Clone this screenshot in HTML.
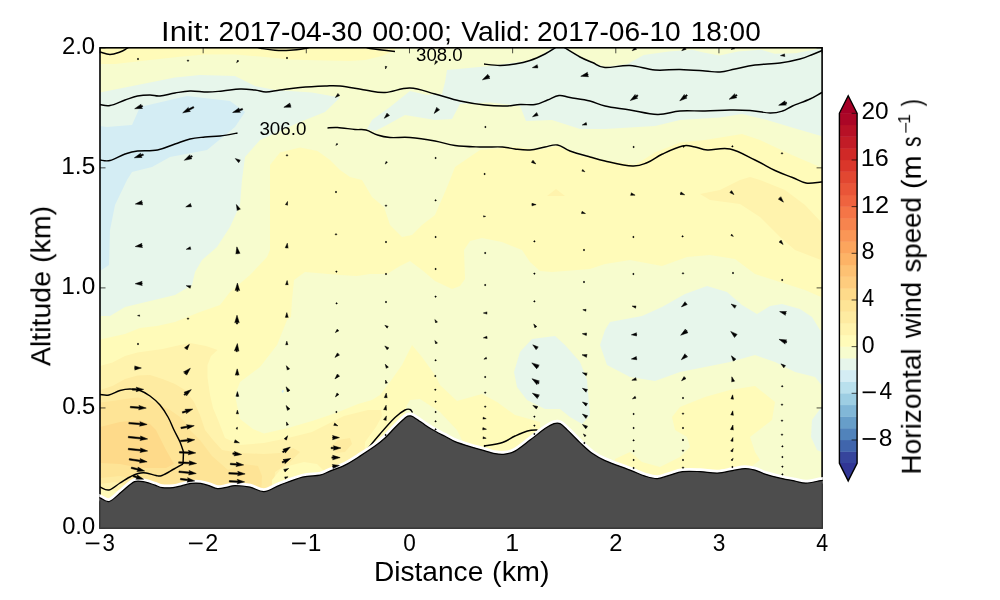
<!DOCTYPE html>
<html><head><meta charset="utf-8"><title>Cross section</title>
<style>html,body{margin:0;padding:0;background:#fff}svg{display:block}text{font-family:"Liberation Sans",sans-serif;fill:#000}</style></head><body>
<svg width="1000" height="600" viewBox="0 0 1000 600">
<rect width="1000" height="600" fill="#fff"/>
<defs><filter id="gs" x="-5%" y="-50%" width="110%" height="200%"><feOffset dx="0" dy="0"/></filter><clipPath id="ax"><rect x="100.0" y="47.8" width="722.1" height="480.2"/></clipPath></defs>
<g clip-path="url(#ax)">
<rect x="100.0" y="47.8" width="722.1" height="480.2" fill="#f7fcce"/>
<polygon points="95.0,40.0 95.0,64.0 115.0,64.0 150.0,60.0 182.0,56.5 205.0,54.5 235.0,54.5 260.0,56.5 290.0,59.5 325.0,60.5 350.0,61.0 365.0,60.0 382.0,56.0 395.0,50.0 398.0,40.0" fill="#fffbb9"/>
<polygon points="95.0,339.6 100.0,339.6 116.0,336.0 125.0,334.0 140.0,328.0 157.0,326.0 175.0,322.0 200.0,312.0 220.0,305.0 230.0,292.0 250.0,275.0 267.0,257.0 270.0,250.0 270.0,180.0 270.0,165.0 280.0,152.5 300.0,147.5 317.5,151.0 330.0,160.0 340.0,170.0 350.0,177.0 362.0,180.0 372.0,197.0 384.0,207.0 390.0,225.0 402.0,237.0 412.0,235.0 422.0,225.0 435.0,215.0 445.0,192.0 450.0,180.0 455.0,167.0 480.0,150.0 515.0,147.0 540.0,150.0 557.0,146.0 580.0,156.0 605.0,160.0 635.0,165.0 655.0,152.5 680.0,142.5 705.0,140.0 742.0,134.0 760.0,140.0 792.0,155.0 821.0,167.5 828.0,170.0 828.0,299.0 821.0,297.0 805.0,290.0 780.0,282.0 755.0,274.0 735.0,259.0 710.0,255.0 687.0,257.0 662.0,266.0 630.0,260.0 605.0,264.0 590.0,269.0 552.0,272.0 540.0,271.0 530.0,262.0 522.0,250.0 502.0,242.0 482.0,238.0 470.0,241.0 464.0,250.0 465.0,279.0 460.0,286.0 452.0,289.0 435.0,281.0 422.0,270.0 410.0,261.0 400.0,266.0 387.0,274.0 370.0,274.0 357.0,276.0 340.0,275.0 305.0,272.0 294.0,280.0 292.0,300.0 291.0,317.0 287.0,320.0 277.0,345.0 260.0,367.0 240.0,382.0 235.0,395.0 238.0,410.0 240.0,419.0 253.0,429.0 264.0,433.6 288.0,428.0 312.0,421.0 336.0,413.0 358.0,404.0 372.0,400.0 380.0,395.0 390.0,382.0 402.0,365.0 412.0,345.0 422.0,357.0 435.0,375.0 440.0,385.0 457.0,401.0 482.0,394.0 497.0,402.0 515.0,415.0 540.0,422.0 545.0,560.0 95.0,560.0" fill="#fffbb9"/>
<polygon points="612.0,560.0 615.0,459.0 630.0,452.0 642.0,462.0 660.0,467.0 680.0,457.0 690.0,447.0 687.0,437.0 675.0,430.0 672.0,417.0 680.0,407.0 705.0,397.0 730.0,390.0 755.0,386.0 775.0,402.0 772.0,420.0 750.0,437.0 755.0,452.0 760.0,460.0 752.0,466.0 752.0,560.0" fill="#fffbb9"/>
<polygon points="405.0,412.0 407.0,405.0 410.0,400.0 420.0,399.0 440.0,412.0 457.0,430.0 462.0,440.0 464.0,560.0 405.0,560.0" fill="#f7fcce"/>
<polygon points="700.0,194.0 720.0,190.0 740.0,180.0 750.0,177.0 760.0,180.0 785.0,190.0 805.0,205.0 821.0,222.0 828.0,225.0 828.0,262.0 821.0,260.0 795.0,250.0 780.0,237.0 760.0,217.0 740.0,204.0 710.0,200.0" fill="#fff3ad"/>
<polygon points="547.0,196.0 556.0,189.0 565.0,196.0" fill="#fff3ad"/>
<polygon points="95.0,366.0 100.0,366.0 112.5,362.5 125.0,356.0 137.5,352.5 162.5,349.0 180.0,345.0 190.0,343.0 206.0,346.0 217.5,350.0 211.0,356.0 207.5,365.0 207.5,377.5 210.0,395.0 213.0,408.0 218.0,420.0 225.0,438.0 240.0,445.0 264.0,443.0 288.0,438.0 312.0,432.0 328.0,424.0 344.0,416.0 368.0,410.0 381.0,410.0 382.0,416.0 376.0,427.0 365.0,442.0 360.0,560.0 95.0,560.0" fill="#fff3ad"/>
<polygon points="95.0,390.0 100.0,390.0 112.5,386.0 125.0,379.0 137.5,375.6 150.0,375.0 162.5,379.0 175.0,384.0 185.0,390.0 194.0,402.0 200.0,415.0 205.0,430.0 213.0,440.0 222.0,450.0 240.0,453.0 264.0,454.0 280.0,453.0 293.0,448.0 300.0,452.0 290.0,462.0 275.0,472.0 268.0,560.0 95.0,560.0" fill="#feeba1"/>
<polygon points="331.0,446.0 338.0,440.0 350.0,438.0 352.0,444.0 345.0,452.0 336.0,453.0" fill="#feeba1"/>
<polygon points="95.0,402.5 100.0,402.5 112.5,401.0 125.0,399.0 137.5,397.5 150.0,400.0 160.0,405.0 170.0,410.0 180.0,417.0 186.0,423.0 190.0,430.0 200.0,440.0 212.0,456.0 228.0,470.0 244.0,464.0 258.0,466.0 262.0,476.0 258.0,560.0 95.0,560.0" fill="#fee496"/>
<polygon points="95.0,427.0 100.0,427.0 120.0,422.0 140.0,420.0 150.0,424.0 156.0,430.0 160.0,438.0 166.0,450.0 174.0,464.0 166.0,468.0 140.0,468.0 120.0,464.0 100.0,463.0 95.0,463.0" fill="#feda8a"/>
<polygon points="95.0,478.0 100.0,478.0 120.0,476.0 134.0,479.0 134.0,560.0 95.0,560.0" fill="#feeba1"/>
<polygon points="95.0,484.0 100.0,484.0 115.0,482.0 127.0,486.0 127.0,560.0 95.0,560.0" fill="#fff3ad"/>
<polygon points="95.0,490.0 100.0,490.0 110.0,489.0 120.0,492.0 120.0,560.0 95.0,560.0" fill="#fffbb9"/>
<polygon points="272.0,560.0 272.0,480.0 280.0,470.0 288.0,466.0 304.0,462.0 317.0,464.0 323.0,470.0 326.0,478.0 326.0,560.0" fill="#fffbb9"/>
<polygon points="95.0,92.5 100.0,92.5 125.0,87.5 175.0,77.5 200.0,75.0 235.0,76.0 255.0,86.0 275.0,90.0 312.0,92.5 340.0,97.5 325.0,112.0 300.0,122.0 260.0,140.0 245.0,157.0 242.0,180.0 240.0,205.0 230.0,227.0 217.0,247.0 202.0,260.0 195.0,272.0 192.0,285.0 175.0,295.0 150.0,301.0 125.0,307.0 110.0,316.0 100.0,316.0 95.0,316.0" fill="#e7f6eb"/>
<polygon points="367.0,129.0 372.0,120.0 390.0,107.0 410.0,91.0 427.0,95.0 442.0,94.0 445.0,82.0 447.0,70.0 490.0,66.0 535.0,60.0 552.0,48.0 553.0,40.0 565.0,40.0 566.0,48.0 580.0,57.0 592.0,62.5 605.0,67.0 609.0,66.5 627.6,64.0 643.7,55.0 669.0,51.5 692.0,49.7 703.5,52.6 719.5,55.6 738.0,51.5 761.0,49.7 774.7,53.8 795.4,53.3 811.5,50.3 821.8,48.7 828.0,48.0 828.0,137.0 821.0,136.0 792.0,127.5 767.0,120.0 742.0,114.0 720.0,117.5 680.0,120.0 655.0,126.0 605.0,129.0 580.0,129.0 552.0,120.0 526.0,121.0 520.0,106.0 490.0,102.5 460.0,104.0 452.0,119.0 435.0,120.0 405.0,115.0 385.0,126.0 375.0,131.0" fill="#e7f6eb"/>
<polygon points="532.0,339.0 555.0,336.0 565.0,345.0 580.0,362.0 587.0,380.0 590.0,415.0 582.0,424.0 570.0,417.0 560.0,409.0 545.0,409.0 527.0,400.0 517.0,387.0 514.0,372.0 520.0,352.0" fill="#e7f6eb"/>
<polygon points="605.0,330.0 610.0,322.0 642.0,316.0 662.0,307.0 685.0,294.0 707.0,286.0 727.0,292.0 742.0,305.0 757.0,314.0 770.0,306.0 782.0,304.0 800.0,309.0 812.0,317.0 820.0,330.0 828.0,332.0 828.0,386.0 821.5,385.0 815.0,377.0 795.0,372.0 775.0,362.0 755.0,355.0 730.0,362.0 705.0,367.0 680.0,372.0 655.0,381.0 630.0,377.0 607.0,365.0 600.0,345.0" fill="#e7f6eb"/>
<polygon points="828.0,407.0 821.5,407.0 812.0,420.0 811.0,437.0 817.0,450.0 821.5,452.0 828.0,452.0" fill="#e7f6eb"/>
<polygon points="95.0,126.0 100.0,126.0 107.0,127.0 132.0,125.0 140.0,107.0 187.0,96.0 230.0,101.0 245.0,112.0 235.0,127.0 207.0,150.0 170.0,157.0 152.0,167.0 132.0,172.0 127.0,180.0 115.0,205.0 110.0,230.0 109.0,265.0 100.0,271.0 95.0,271.0" fill="#d4edf4"/>
<polygon points="281.6,391.6 283.0,389.6 284.0,391.0 282.6,393.0" fill="#d4edf4"/>
<path d="M98.0 51.5 C98.4 51.6 97.8 51.5 100.0 52.0 C102.2 52.5 106.3 54.5 110.0 54.5 C113.7 54.5 116.9 53.1 120.0 52.0 C123.1 50.9 125.3 49.3 127.0 48.4 C128.7 47.5 128.6 47.3 129.0 47.0" fill="none" stroke="#000" stroke-width="1.45" stroke-linejoin="round"/>
<path d="M98.0 104.3 C98.4 104.3 97.8 104.3 100.0 104.5 C102.2 104.7 105.4 106.3 110.0 105.5 C114.6 104.7 120.0 101.7 125.0 100.0 C130.0 98.3 132.9 96.9 137.5 96.0 C142.1 95.1 145.9 95.0 150.0 95.0 C154.1 95.0 155.4 96.4 160.0 96.0 C164.6 95.6 169.5 93.9 175.0 93.0 C180.5 92.1 184.0 91.2 190.0 91.0 C196.0 90.8 201.5 92.0 207.5 92.0 C213.5 92.0 216.5 91.5 222.5 91.0 C228.5 90.5 234.0 89.2 240.0 89.0 C246.0 88.8 250.2 89.5 255.0 90.0 C259.8 90.5 261.4 92.0 266.0 92.0 C270.6 92.0 273.8 90.8 280.0 90.0 C286.2 89.2 291.8 88.2 300.0 87.5 C308.2 86.8 317.7 86.3 325.0 86.0 C332.3 85.7 332.7 85.3 340.0 86.0 C347.3 86.7 356.8 88.8 365.0 90.0 C373.2 91.2 376.8 92.9 385.0 92.5 C393.2 92.1 400.8 87.7 410.0 88.0 C419.2 88.3 425.8 91.6 435.0 94.0 C444.2 96.4 450.8 99.0 460.0 101.0 C469.2 103.0 476.8 104.1 485.0 105.0 C493.2 105.9 498.6 106.1 505.0 106.0 C511.4 105.9 514.5 104.8 520.0 104.5 C525.5 104.2 530.0 105.3 535.0 104.5 C540.0 103.7 543.1 101.7 547.5 100.0 C551.9 98.3 554.9 96.0 559.0 95.5 C563.1 95.0 564.3 96.5 570.0 97.5 C575.7 98.5 583.6 99.4 590.0 101.0 C596.4 102.6 597.7 104.3 605.0 106.0 C612.3 107.7 620.4 108.4 630.0 110.0 C639.6 111.6 648.3 114.3 657.5 114.5 C666.7 114.7 671.3 111.6 680.0 111.0 C688.7 110.4 695.8 111.2 705.0 111.0 C714.2 110.8 721.8 110.1 730.0 110.0 C738.2 109.9 742.7 110.0 750.0 110.5 C757.3 111.0 764.0 112.9 770.0 113.0 C776.0 113.1 778.4 112.3 782.5 111.0 C786.6 109.7 787.5 108.2 792.5 106.0 C797.5 103.8 804.8 101.4 810.0 99.0 C815.2 96.6 818.4 94.3 821.0 93.0 C823.6 91.7 823.5 92.2 824.0 92.0" fill="none" stroke="#000" stroke-width="1.45" stroke-linejoin="round"/>
<path d="M98.0 160.0 C98.4 160.0 97.8 159.9 100.0 160.0 C102.2 160.1 105.4 161.6 110.0 160.5 C114.6 159.4 120.0 155.7 125.0 154.0 C130.0 152.3 131.5 151.7 137.5 151.0 C143.5 150.3 150.6 151.3 157.5 150.0 C164.4 148.7 169.0 146.0 175.0 144.0 C181.0 142.0 184.5 140.3 190.0 139.0 C195.5 137.7 199.5 137.6 205.0 137.0 C210.5 136.4 214.0 136.7 220.0 136.0 C226.0 135.3 234.3 133.6 237.5 133.0" fill="none" stroke="#000" stroke-width="1.45" stroke-linejoin="round"/>
<path d="M327.5 128.0 C329.3 127.9 332.5 127.2 337.5 127.5 C342.5 127.8 349.8 129.0 355.0 129.5 C360.2 130.0 361.9 129.0 366.0 130.0 C370.1 131.0 373.1 133.6 377.5 135.0 C381.9 136.4 384.0 137.0 390.0 137.5 C396.0 138.0 401.8 136.9 410.0 137.5 C418.2 138.1 426.8 139.5 435.0 141.0 C443.2 142.5 446.8 144.4 455.0 145.5 C463.2 146.6 471.3 146.7 480.0 147.0 C488.7 147.3 496.1 146.6 502.5 147.0 C508.9 147.4 510.0 148.4 515.0 149.0 C520.0 149.6 524.5 150.4 530.0 150.0 C535.5 149.6 540.0 147.9 545.0 147.0 C550.0 146.1 552.9 144.3 557.5 145.0 C562.1 145.7 564.0 148.8 570.0 151.0 C576.0 153.2 583.6 155.2 590.0 157.0 C596.4 158.8 597.2 159.3 605.0 161.0 C612.8 162.7 624.7 165.7 632.5 166.0 C640.3 166.3 642.0 164.7 647.5 162.5 C653.0 160.3 656.1 157.0 662.5 154.0 C668.9 151.0 676.5 147.3 682.5 146.0 C688.5 144.7 690.4 146.3 695.0 147.0 C699.6 147.7 701.1 149.6 707.5 150.0 C713.9 150.4 721.3 147.2 730.0 149.0 C738.7 150.8 746.8 156.1 755.0 160.0 C763.2 163.9 768.1 167.3 775.0 170.5 C781.9 173.7 786.8 175.2 792.5 177.5 C798.2 179.8 800.8 182.2 806.0 183.0 C811.2 183.8 817.7 182.2 821.0 182.0 C824.3 181.8 823.5 182.0 824.0 182.0" fill="none" stroke="#000" stroke-width="1.45" stroke-linejoin="round"/>
<path d="M257.0 47.0 C257.9 47.3 258.7 47.9 262.0 48.5 C265.3 49.1 269.9 50.0 275.0 50.3 C280.1 50.6 284.5 50.6 290.0 50.3 C295.5 50.0 301.3 49.1 305.0 48.5 C308.7 47.9 309.1 47.3 310.0 47.0" fill="none" stroke="#000" stroke-width="1.45" stroke-linejoin="round"/>
<path d="M366.0 47.0 C366.7 47.3 364.7 47.7 370.0 48.5 C375.3 49.3 390.4 51.0 395.0 51.5" fill="none" stroke="#000" stroke-width="1.45" stroke-linejoin="round"/>
<path d="M484.0 64.0 C486.9 64.3 494.3 65.5 500.0 65.5 C505.7 65.5 509.5 64.9 515.0 64.0 C520.5 63.1 524.5 62.3 530.0 60.5 C535.5 58.7 540.4 56.3 545.0 54.0 C549.6 51.7 552.8 49.4 555.0 48.0 C557.2 46.6 556.6 46.8 557.0 46.5" fill="none" stroke="#000" stroke-width="1.45" stroke-linejoin="round"/>
<path d="M563.0 46.5 C563.4 46.8 561.9 46.1 565.0 48.0 C568.1 49.9 575.0 54.3 580.0 57.0 C585.0 59.7 587.9 60.6 592.5 62.5 C597.1 64.4 598.1 67.0 605.0 67.5 C611.9 68.0 620.8 65.0 630.0 65.5 C639.2 66.0 645.8 69.3 655.0 70.0 C664.2 70.7 670.8 69.3 680.0 69.5 C689.2 69.7 697.7 70.5 705.0 71.0 C712.3 71.5 714.5 72.4 720.0 72.0 C725.5 71.6 728.6 70.3 735.0 69.0 C741.4 67.7 746.8 66.1 755.0 65.0 C763.2 63.9 771.8 64.1 780.0 63.0 C788.2 61.9 794.0 60.6 800.0 59.0 C806.0 57.4 808.6 56.0 812.5 54.5 C816.4 53.0 818.9 51.8 821.0 51.0 C823.1 50.2 823.5 50.2 824.0 50.0" fill="none" stroke="#000" stroke-width="1.45" stroke-linejoin="round"/>
<path d="M98.0 394.3 C98.4 394.3 98.0 394.4 100.0 394.5 C102.0 394.6 105.3 395.7 109.0 395.0 C112.7 394.3 116.2 391.6 120.0 390.5 C123.8 389.4 126.3 389.0 130.0 389.0 C133.7 389.0 136.3 389.2 140.0 390.5 C143.7 391.8 146.3 393.3 150.0 396.0 C153.7 398.7 156.7 401.1 160.0 405.0 C163.3 408.9 165.4 412.4 168.0 417.0 C170.6 421.6 171.8 425.4 174.0 430.0 C176.2 434.6 178.3 438.0 180.0 442.0 C181.7 446.0 182.9 450.2 183.5 452.0" fill="none" stroke="#000" stroke-width="1.45" stroke-linejoin="round"/>
<path d="M183.5 452.0 L183.0 464.0" fill="none" stroke="#000" stroke-width="1.45" stroke-linejoin="round"/>
<path d="M183.0 464.0 C181.3 464.9 177.8 466.9 174.0 469.0 C170.2 471.1 165.3 474.3 162.0 475.5 C158.7 476.7 158.9 476.0 156.0 475.5 C153.1 475.0 149.3 473.4 146.0 473.0 C142.7 472.6 140.9 472.8 138.0 473.5 C135.1 474.2 133.3 475.3 130.0 477.0 C126.7 478.7 123.8 480.6 120.0 483.0 C116.2 485.4 112.7 489.3 109.0 490.0 C105.3 490.7 102.0 487.6 100.0 487.0 C98.0 486.4 98.4 486.6 98.0 486.5" fill="none" stroke="#000" stroke-width="1.45" stroke-linejoin="round"/>
<path d="M367.5 449.0 C369.8 446.2 375.0 439.8 380.0 434.0 C385.0 428.2 390.4 421.9 395.0 417.5 C399.6 413.1 402.2 411.5 405.0 410.0 C407.8 408.5 408.6 409.0 410.0 409.5 C411.4 410.0 412.0 411.9 412.5 412.5" fill="none" stroke="#000" stroke-width="1.45" stroke-linejoin="round"/>
<path d="M484.0 446.0 C487.4 445.4 496.8 444.3 502.5 442.5 C508.2 440.7 510.4 438.1 515.0 436.0 C519.6 433.9 523.4 432.1 527.5 431.0 C531.6 429.9 535.7 430.2 537.5 430.0" fill="none" stroke="#000" stroke-width="1.45" stroke-linejoin="round"/>
</g>
<g clip-path="url(#ax)">
<text filter="url(#gs)" transform="translate(259.40 135.20) scale(1.0436 1)" font-size="18.0">306.0</text>
<text filter="url(#gs)" transform="translate(416.10 60.50) scale(1.0344 1)" font-size="18.0">308.0</text>
</g>
<rect x="100.0" y="47.8" width="722.1" height="480.2" fill="none" stroke="#000" stroke-width="1.6"/>
<path d="M100.00 528.0 v-5.5 M100.00 47.8 v5.5 M203.16 528.0 v-5.5 M203.16 47.8 v5.5 M306.31 528.0 v-5.5 M306.31 47.8 v5.5 M409.47 528.0 v-5.5 M409.47 47.8 v5.5 M512.63 528.0 v-5.5 M512.63 47.8 v5.5 M615.79 528.0 v-5.5 M615.79 47.8 v5.5 M718.94 528.0 v-5.5 M718.94 47.8 v5.5 M822.10 528.0 v-5.5 M822.10 47.8 v5.5 M100.0 528.00 h5.5 M822.1 528.00 h-5.5 M100.0 407.95 h5.5 M822.1 407.95 h-5.5 M100.0 287.90 h5.5 M822.1 287.90 h-5.5 M100.0 167.85 h5.5 M822.1 167.85 h-5.5 M100.0 47.80 h5.5 M822.1 47.80 h-5.5" stroke="#000" stroke-width="0.7" fill="none"/>
<defs><clipPath id="ax2"><rect x="99.30" y="47.80" width="723.50" height="480.90"/></clipPath></defs>
<g clip-path="url(#ax2)">
<path d="M95.0 496.8 C95.8 497.0 97.6 497.0 100.0 497.8 C102.4 498.6 105.7 502.6 109.4 501.5 C113.1 500.4 117.8 494.8 122.0 491.5 C126.2 488.2 130.7 483.2 134.6 481.6 C138.5 480.1 142.0 481.6 145.4 482.2 C148.8 482.8 152.2 484.3 155.0 485.2 C157.8 486.1 159.2 487.2 162.2 487.6 C165.2 488.0 169.8 487.9 173.0 487.6 C176.2 487.3 178.4 486.5 181.4 485.8 C184.4 485.1 187.8 483.8 191.0 483.4 C194.2 483.0 197.6 483.0 200.6 483.4 C203.6 483.8 206.2 484.7 209.0 485.6 C211.8 486.5 214.4 488.4 217.5 488.6 C220.6 488.9 224.6 487.6 227.5 487.1 C230.4 486.6 231.2 485.6 235.0 485.6 C238.8 485.6 245.2 486.1 250.0 487.1 C254.8 488.1 259.0 491.9 264.0 491.6 C269.0 491.3 273.6 487.5 280.0 485.1 C286.4 482.7 295.8 478.8 302.5 477.1 C309.2 475.4 315.4 476.1 320.0 475.1 C324.6 474.1 325.8 472.8 330.0 471.1 C334.2 469.4 340.0 467.6 345.0 465.1 C350.0 462.6 355.0 459.3 360.0 456.1 C365.0 452.9 370.8 449.1 375.0 446.1 C379.2 443.1 382.2 440.5 385.0 438.0 C387.8 435.5 389.5 433.3 391.7 431.0 C393.9 428.7 396.1 426.5 398.3 424.3 C400.5 422.1 403.4 419.2 405.0 417.9 C406.6 416.6 406.8 416.6 407.7 416.2 C408.6 415.9 409.4 415.7 410.3 415.8 C411.2 415.9 411.7 416.1 413.0 416.8 C414.3 417.6 416.3 418.9 418.3 420.3 C420.3 421.7 422.8 423.5 425.0 425.0 C427.2 426.5 429.5 428.0 431.7 429.3 C433.9 430.6 436.1 431.8 438.3 433.0 C440.5 434.2 442.2 434.9 445.0 436.3 C447.8 437.7 450.8 439.9 455.0 441.6 C459.2 443.3 465.4 445.2 470.0 446.6 C474.6 448.0 478.3 448.9 482.5 450.1 C486.7 451.3 491.2 452.9 495.0 453.6 C498.8 454.3 501.7 454.5 505.0 454.1 C508.3 453.7 510.8 453.4 515.0 451.1 C519.2 448.8 525.0 443.9 530.0 440.1 C535.0 436.4 541.0 431.4 545.0 428.6 C549.0 425.9 551.5 424.4 554.0 423.6 C556.5 422.8 557.8 422.5 560.0 423.6 C562.2 424.7 564.2 426.9 567.5 430.1 C570.8 433.3 575.8 438.7 580.0 442.6 C584.2 446.5 588.3 450.6 592.5 453.6 C596.7 456.6 598.8 457.9 605.0 460.6 C611.2 463.4 623.3 467.5 630.0 470.1 C636.7 472.7 640.4 474.7 645.0 476.1 C649.6 477.5 653.3 478.8 657.5 478.6 C661.7 478.4 665.8 476.3 670.0 475.1 C674.2 473.9 677.5 472.2 682.5 471.6 C687.5 471.0 694.2 471.4 700.0 471.6 C705.8 471.9 712.1 473.3 717.5 473.1 C722.9 472.9 727.9 471.4 732.5 470.6 C737.1 469.9 741.2 468.7 745.0 468.6 C748.8 468.5 751.7 469.2 755.0 470.1 C758.3 471.0 760.8 472.8 765.0 474.1 C769.2 475.4 775.0 476.9 780.0 478.1 C785.0 479.3 790.7 480.3 795.0 481.1 C799.3 481.9 801.7 483.2 806.0 483.1 C810.3 483.0 817.5 481.1 821.0 480.6 C824.5 480.1 826.1 480.2 827.1 480.1" fill="none" stroke="#fff" stroke-width="6.6" stroke-linejoin="round"/>
<path d="M95.0 496.8 C95.8 497.0 97.6 497.0 100.0 497.8 C102.4 498.6 105.7 502.6 109.4 501.5 C113.1 500.4 117.8 494.8 122.0 491.5 C126.2 488.2 130.7 483.2 134.6 481.6 C138.5 480.1 142.0 481.6 145.4 482.2 C148.8 482.8 152.2 484.3 155.0 485.2 C157.8 486.1 159.2 487.2 162.2 487.6 C165.2 488.0 169.8 487.9 173.0 487.6 C176.2 487.3 178.4 486.5 181.4 485.8 C184.4 485.1 187.8 483.8 191.0 483.4 C194.2 483.0 197.6 483.0 200.6 483.4 C203.6 483.8 206.2 484.7 209.0 485.6 C211.8 486.5 214.4 488.4 217.5 488.6 C220.6 488.9 224.6 487.6 227.5 487.1 C230.4 486.6 231.2 485.6 235.0 485.6 C238.8 485.6 245.2 486.1 250.0 487.1 C254.8 488.1 259.0 491.9 264.0 491.6 C269.0 491.3 273.6 487.5 280.0 485.1 C286.4 482.7 295.8 478.8 302.5 477.1 C309.2 475.4 315.4 476.1 320.0 475.1 C324.6 474.1 325.8 472.8 330.0 471.1 C334.2 469.4 340.0 467.6 345.0 465.1 C350.0 462.6 355.0 459.3 360.0 456.1 C365.0 452.9 370.8 449.1 375.0 446.1 C379.2 443.1 382.2 440.5 385.0 438.0 C387.8 435.5 389.5 433.3 391.7 431.0 C393.9 428.7 396.1 426.5 398.3 424.3 C400.5 422.1 403.4 419.2 405.0 417.9 C406.6 416.6 406.8 416.6 407.7 416.2 C408.6 415.9 409.4 415.7 410.3 415.8 C411.2 415.9 411.7 416.1 413.0 416.8 C414.3 417.6 416.3 418.9 418.3 420.3 C420.3 421.7 422.8 423.5 425.0 425.0 C427.2 426.5 429.5 428.0 431.7 429.3 C433.9 430.6 436.1 431.8 438.3 433.0 C440.5 434.2 442.2 434.9 445.0 436.3 C447.8 437.7 450.8 439.9 455.0 441.6 C459.2 443.3 465.4 445.2 470.0 446.6 C474.6 448.0 478.3 448.9 482.5 450.1 C486.7 451.3 491.2 452.9 495.0 453.6 C498.8 454.3 501.7 454.5 505.0 454.1 C508.3 453.7 510.8 453.4 515.0 451.1 C519.2 448.8 525.0 443.9 530.0 440.1 C535.0 436.4 541.0 431.4 545.0 428.6 C549.0 425.9 551.5 424.4 554.0 423.6 C556.5 422.8 557.8 422.5 560.0 423.6 C562.2 424.7 564.2 426.9 567.5 430.1 C570.8 433.3 575.8 438.7 580.0 442.6 C584.2 446.5 588.3 450.6 592.5 453.6 C596.7 456.6 598.8 457.9 605.0 460.6 C611.2 463.4 623.3 467.5 630.0 470.1 C636.7 472.7 640.4 474.7 645.0 476.1 C649.6 477.5 653.3 478.8 657.5 478.6 C661.7 478.4 665.8 476.3 670.0 475.1 C674.2 473.9 677.5 472.2 682.5 471.6 C687.5 471.0 694.2 471.4 700.0 471.6 C705.8 471.9 712.1 473.3 717.5 473.1 C722.9 472.9 727.9 471.4 732.5 470.6 C737.1 469.9 741.2 468.7 745.0 468.6 C748.8 468.5 751.7 469.2 755.0 470.1 C758.3 471.0 760.8 472.8 765.0 474.1 C769.2 475.4 775.0 476.9 780.0 478.1 C785.0 479.3 790.7 480.3 795.0 481.1 C799.3 481.9 801.7 483.2 806.0 483.1 C810.3 483.0 817.5 481.1 821.0 480.6 C824.5 480.1 826.1 480.2 827.1 480.1 L827.1 533.0 L95.0 533.0 Z" fill="#4d4d4d"/>
<path d="M95.0 496.8 C95.8 497.0 97.6 497.0 100.0 497.8 C102.4 498.6 105.7 502.6 109.4 501.5 C113.1 500.4 117.8 494.8 122.0 491.5 C126.2 488.2 130.7 483.2 134.6 481.6 C138.5 480.1 142.0 481.6 145.4 482.2 C148.8 482.8 152.2 484.3 155.0 485.2 C157.8 486.1 159.2 487.2 162.2 487.6 C165.2 488.0 169.8 487.9 173.0 487.6 C176.2 487.3 178.4 486.5 181.4 485.8 C184.4 485.1 187.8 483.8 191.0 483.4 C194.2 483.0 197.6 483.0 200.6 483.4 C203.6 483.8 206.2 484.7 209.0 485.6 C211.8 486.5 214.4 488.4 217.5 488.6 C220.6 488.9 224.6 487.6 227.5 487.1 C230.4 486.6 231.2 485.6 235.0 485.6 C238.8 485.6 245.2 486.1 250.0 487.1 C254.8 488.1 259.0 491.9 264.0 491.6 C269.0 491.3 273.6 487.5 280.0 485.1 C286.4 482.7 295.8 478.8 302.5 477.1 C309.2 475.4 315.4 476.1 320.0 475.1 C324.6 474.1 325.8 472.8 330.0 471.1 C334.2 469.4 340.0 467.6 345.0 465.1 C350.0 462.6 355.0 459.3 360.0 456.1 C365.0 452.9 370.8 449.1 375.0 446.1 C379.2 443.1 382.2 440.5 385.0 438.0 C387.8 435.5 389.5 433.3 391.7 431.0 C393.9 428.7 396.1 426.5 398.3 424.3 C400.5 422.1 403.4 419.2 405.0 417.9 C406.6 416.6 406.8 416.6 407.7 416.2 C408.6 415.9 409.4 415.7 410.3 415.8 C411.2 415.9 411.7 416.1 413.0 416.8 C414.3 417.6 416.3 418.9 418.3 420.3 C420.3 421.7 422.8 423.5 425.0 425.0 C427.2 426.5 429.5 428.0 431.7 429.3 C433.9 430.6 436.1 431.8 438.3 433.0 C440.5 434.2 442.2 434.9 445.0 436.3 C447.8 437.7 450.8 439.9 455.0 441.6 C459.2 443.3 465.4 445.2 470.0 446.6 C474.6 448.0 478.3 448.9 482.5 450.1 C486.7 451.3 491.2 452.9 495.0 453.6 C498.8 454.3 501.7 454.5 505.0 454.1 C508.3 453.7 510.8 453.4 515.0 451.1 C519.2 448.8 525.0 443.9 530.0 440.1 C535.0 436.4 541.0 431.4 545.0 428.6 C549.0 425.9 551.5 424.4 554.0 423.6 C556.5 422.8 557.8 422.5 560.0 423.6 C562.2 424.7 564.2 426.9 567.5 430.1 C570.8 433.3 575.8 438.7 580.0 442.6 C584.2 446.5 588.3 450.6 592.5 453.6 C596.7 456.6 598.8 457.9 605.0 460.6 C611.2 463.4 623.3 467.5 630.0 470.1 C636.7 472.7 640.4 474.7 645.0 476.1 C649.6 477.5 653.3 478.8 657.5 478.6 C661.7 478.4 665.8 476.3 670.0 475.1 C674.2 473.9 677.5 472.2 682.5 471.6 C687.5 471.0 694.2 471.4 700.0 471.6 C705.8 471.9 712.1 473.3 717.5 473.1 C722.9 472.9 727.9 471.4 732.5 470.6 C737.1 469.9 741.2 468.7 745.0 468.6 C748.8 468.5 751.7 469.2 755.0 470.1 C758.3 471.0 760.8 472.8 765.0 474.1 C769.2 475.4 775.0 476.9 780.0 478.1 C785.0 479.3 790.7 480.3 795.0 481.1 C799.3 481.9 801.7 483.2 806.0 483.1 C810.3 483.0 817.5 481.1 821.0 480.6 C824.5 480.1 826.1 480.2 827.1 480.1" fill="none" stroke="#000" stroke-width="1.25" stroke-linejoin="round"/>
</g>
<path clip-path="url(#ax)" d="M138.75 59.00 L138.38 59.65 L137.62 59.65 L137.25 59.00 L137.62 58.35 L138.38 58.35Z M142.28 105.40 L140.86 105.87 L141.10 104.21 L134.68 108.69 L142.51 108.48 L141.33 107.29 L142.75 106.82Z M143.02 153.91 L140.44 154.82 L140.65 153.16 L134.33 157.78 L142.15 157.40 L140.94 156.24 L143.52 155.32Z M142.17 202.02 L141.47 202.15 L141.90 200.61 L135.29 204.08 L142.72 204.82 L141.74 203.55 L142.44 203.42Z M142.09 244.75 L141.39 244.86 L141.88 243.35 L135.20 246.55 L142.53 247.56 L141.61 246.26 L142.31 246.15Z M142.17 282.76 L141.47 282.79 L142.12 281.36 L135.20 283.74 L142.28 285.56 L141.53 284.19 L142.23 284.16Z M139.66 315.39 L139.45 315.39 L139.66 314.96 L137.54 315.60 L139.66 316.24 L139.45 315.81 L139.66 315.81Z M138.75 344.00 L138.38 344.65 L137.62 344.65 L137.25 344.00 L137.62 343.35 L138.38 343.35Z M134.60 368.68 L135.28 368.68 L134.60 370.04 L141.40 368.00 L134.60 365.96 L135.28 367.32 L134.60 367.32Z M132.35 390.15 L136.90 390.15 L136.15 391.65 L143.65 389.40 L136.15 387.15 L136.90 388.65 L132.35 388.65Z M130.30 407.87 L139.47 408.42 L138.63 409.87 L146.25 408.08 L138.90 405.38 L139.56 406.92 L130.39 406.37Z M128.79 423.87 L140.36 424.73 L139.51 426.17 L147.15 424.47 L139.84 421.68 L140.47 423.23 L128.90 422.38Z M128.27 437.78 L140.86 439.04 L139.97 440.46 L147.65 438.97 L140.41 435.98 L141.01 437.55 L128.42 436.29Z M128.27 449.78 L140.86 451.04 L139.97 452.46 L147.65 450.97 L140.41 447.98 L141.01 449.55 L128.42 448.29Z M129.14 460.09 L140.36 461.66 L139.41 463.04 L147.15 461.85 L140.04 458.58 L140.57 460.17 L129.35 458.61Z M131.16 468.51 L137.92 470.15 L136.84 471.43 L144.66 471.02 L137.90 467.06 L138.28 468.70 L131.52 467.05Z M133.01 476.72 L136.90 477.92 L135.74 479.13 L143.57 479.20 L137.06 474.83 L137.34 476.49 L133.46 475.29Z M188.75 60.60 L188.38 61.25 L187.62 61.25 L187.25 60.60 L187.62 59.95 L188.38 59.95Z M193.34 106.49 L188.36 109.07 L188.34 107.40 L182.71 112.84 L190.41 111.39 L189.05 110.40 L194.03 107.83Z M191.73 155.41 L189.87 156.43 L189.80 154.76 L184.31 160.33 L191.97 158.70 L190.59 157.75 L192.45 156.73Z M190.89 204.58 L190.36 204.75 L190.53 203.51 L185.73 206.89 L191.60 206.71 L190.71 205.82 L191.25 205.64Z M190.43 247.62 L190.00 247.75 L190.18 246.75 L186.24 249.35 L190.95 249.35 L190.26 248.61 L190.69 248.48Z M190.69 286.52 L190.26 286.39 L190.95 285.65 L186.24 285.65 L190.18 288.25 L190.00 287.25 L190.43 287.38Z M188.75 318.60 L188.38 319.25 L187.62 319.25 L187.25 318.60 L187.62 317.95 L188.38 317.95Z M186.26 349.18 L186.62 348.74 L187.15 349.90 L189.38 344.37 L184.48 347.76 L185.73 348.03 L185.37 348.47Z M185.38 374.28 L186.11 373.55 L186.64 375.14 L190.35 368.25 L183.46 371.96 L185.05 372.49 L184.32 373.22Z M184.73 395.40 L186.33 394.22 L186.62 395.87 L191.32 389.61 L183.95 392.25 L185.44 393.01 L183.84 394.19Z M182.67 413.20 L186.59 411.92 L186.34 413.58 L192.77 409.11 L184.94 409.30 L186.12 410.50 L182.20 411.78Z M181.07 428.68 L187.73 427.54 L187.24 429.14 L194.26 425.66 L186.48 424.71 L187.48 426.06 L180.82 427.20Z M180.52 441.81 L188.10 441.11 L187.49 442.67 L194.75 439.73 L187.07 438.19 L187.96 439.61 L180.38 440.32Z M179.42 453.06 L188.98 453.40 L188.18 454.87 L195.75 452.89 L188.33 450.37 L189.03 451.90 L179.48 451.56Z M178.61 463.27 L189.77 463.87 L188.94 465.33 L196.55 463.48 L189.18 460.83 L189.85 462.37 L178.69 461.77Z M178.87 472.48 L189.46 473.54 L188.57 474.96 L196.25 473.47 L189.01 470.48 L189.61 472.05 L179.02 470.99Z M180.35 479.79 L187.96 480.81 L187.02 482.19 L194.75 480.95 L187.62 477.73 L188.16 479.32 L180.55 478.30Z M237.98 60.38 L237.82 60.59 L237.56 60.06 L236.61 62.66 L238.83 61.02 L238.25 60.91 L238.41 60.70Z M242.33 108.40 L238.78 109.61 L239.01 107.95 L232.63 112.49 L240.46 112.21 L239.26 111.03 L242.81 109.82Z M239.80 161.03 L239.38 160.74 L240.38 160.18 L235.29 158.55 L238.64 162.72 L238.80 161.58 L239.22 161.87Z M239.34 209.64 L239.10 209.10 L240.41 209.16 L236.39 204.52 L237.20 210.60 L238.03 209.59 L238.27 210.12Z M238.64 253.65 L238.53 252.95 L240.02 253.43 L236.85 246.85 L235.87 254.08 L237.15 253.17 L237.25 253.86Z M238.15 291.35 L238.15 289.80 L239.65 290.55 L237.40 283.05 L235.15 290.55 L236.65 289.80 L236.65 291.35Z M237.75 324.00 L237.75 321.95 L239.25 322.70 L237.00 315.20 L234.75 322.70 L236.25 321.95 L236.25 324.00Z M237.38 351.72 L237.50 350.34 L238.93 351.22 L237.37 343.55 L234.45 350.81 L236.01 350.20 L235.88 351.58Z M237.83 375.15 L237.83 374.52 L239.09 375.15 L237.20 368.85 L235.31 375.15 L236.57 374.52 L236.57 375.15Z M237.88 396.40 L237.88 395.92 L238.84 396.40 L237.40 391.60 L235.96 396.40 L236.92 395.92 L236.92 396.40Z M237.77 413.86 L237.77 413.48 L238.51 413.86 L237.40 410.14 L236.29 413.86 L237.03 413.48 L237.03 413.86Z M236.95 429.11 L237.00 428.90 L237.37 429.22 L237.26 426.94 L236.10 428.90 L236.58 428.80 L236.52 429.01Z M234.46 441.68 L234.93 441.84 L234.14 442.64 L239.38 442.80 L235.09 439.77 L235.25 440.89 L234.77 440.73Z M232.72 454.28 L234.81 454.50 L233.91 455.92 L241.60 454.46 L234.38 451.44 L234.97 453.01 L232.88 452.79Z M230.30 464.67 L236.86 465.14 L236.01 466.58 L243.65 464.88 L236.33 462.10 L236.97 463.65 L230.40 463.18Z M228.82 474.06 L238.38 474.40 L237.58 475.87 L245.15 473.89 L237.73 471.37 L238.43 472.90 L228.88 472.56Z M229.32 482.06 L237.88 482.38 L237.07 483.85 L244.65 481.89 L237.24 479.36 L237.93 480.88 L229.38 480.56Z M287.75 58.00 L287.38 58.65 L286.62 58.65 L286.25 58.00 L286.62 57.35 L287.38 57.35Z M290.35 104.43 L289.68 104.65 L289.91 103.09 L283.83 107.29 L291.22 107.13 L290.11 106.00 L290.79 105.78Z M287.75 155.40 L287.38 156.05 L286.62 156.05 L286.25 155.40 L286.62 154.75 L287.38 154.75Z M286.82 205.05 L286.93 204.71 L287.52 205.27 L287.53 201.45 L285.42 204.63 L286.23 204.49 L286.12 204.84Z M287.17 248.10 L287.23 247.61 L288.14 248.23 L287.32 243.16 L285.22 247.85 L286.26 247.49 L286.19 247.97Z M287.30 284.88 L287.33 284.45 L288.16 284.93 L287.13 280.55 L285.58 284.77 L286.47 284.39 L286.44 284.82Z M287.28 317.38 L287.28 316.91 L288.23 317.38 L286.80 312.62 L285.37 317.38 L286.32 316.91 L286.32 317.38Z M287.17 344.86 L287.17 344.48 L287.91 344.86 L286.80 341.14 L285.69 344.86 L286.43 344.48 L286.43 344.86Z M288.82 369.33 L288.62 368.95 L289.60 368.92 L286.36 365.66 L287.27 370.16 L287.84 369.36 L288.05 369.75Z M289.16 390.94 L288.90 390.50 L290.04 390.41 L286.08 386.80 L287.40 391.99 L288.02 391.02 L288.28 391.46Z M289.14 409.44 L288.87 409.02 L289.98 408.91 L286.09 405.50 L287.45 410.49 L288.03 409.55 L288.29 409.97Z M287.85 424.98 L287.74 424.67 L288.48 424.77 L286.47 421.91 L286.58 425.41 L287.11 424.88 L287.21 425.20Z M285.66 439.70 L285.90 439.33 L286.41 440.18 L287.71 435.74 L284.18 438.73 L285.16 438.84 L284.92 439.21Z M283.10 452.73 L285.08 451.43 L285.28 453.10 L290.31 447.09 L282.81 449.34 L284.26 450.18 L282.28 451.48Z M282.64 463.08 L284.92 461.99 L284.89 463.66 L290.68 458.40 L282.95 459.60 L284.27 460.63 L281.99 461.72Z M284.54 471.18 L284.98 470.95 L284.99 472.05 L288.69 468.46 L283.63 469.42 L284.52 470.07 L284.08 470.30Z M285.02 478.25 L285.33 478.14 L285.23 478.88 L288.09 476.87 L284.59 476.98 L285.12 477.51 L284.80 477.61Z M338.53 94.13 L338.19 94.44 L337.92 93.44 L335.36 97.52 L339.75 95.52 L338.79 95.13 L339.14 94.83Z M337.24 143.65 L337.08 143.81 L336.92 143.33 L335.81 145.39 L337.87 144.28 L337.40 144.12 L337.55 143.96Z M336.75 192.00 L336.38 192.65 L335.62 192.65 L335.25 192.00 L335.62 191.35 L336.38 191.35Z M336.75 234.40 L336.38 235.05 L335.62 235.05 L335.25 234.40 L335.62 233.75 L336.38 233.75Z M337.15 271.60 L336.77 272.25 L336.02 272.25 L335.65 271.60 L336.02 270.95 L336.77 270.95Z M337.35 303.40 L336.98 304.05 L336.23 304.05 L335.85 303.40 L336.23 302.75 L336.98 302.75Z M337.76 329.71 L337.50 329.98 L337.23 329.18 L335.38 332.62 L338.82 330.77 L338.02 330.50 L338.29 330.24Z M338.10 353.60 L337.75 353.95 L337.40 352.90 L334.95 357.45 L339.50 355.00 L338.45 354.65 L338.80 354.30Z M338.07 374.74 L337.72 375.12 L337.30 374.04 L334.95 378.91 L339.59 376.14 L338.48 375.82 L338.83 375.44Z M337.65 393.46 L337.40 393.77 L337.02 392.95 L335.43 396.89 L338.93 394.47 L338.04 394.28 L338.29 393.96Z M337.15 412.00 L336.77 412.65 L336.02 412.65 L335.65 412.00 L336.02 411.35 L336.77 411.35Z M333.99 424.58 L334.36 424.74 L333.67 425.32 L337.86 425.80 L334.62 423.09 L334.68 423.99 L334.30 423.83Z M332.55 438.29 L333.24 438.29 L332.55 439.67 L339.45 437.60 L332.55 435.53 L333.24 436.91 L332.55 436.91Z M331.10 448.75 L334.15 448.75 L333.40 450.25 L340.90 448.00 L333.40 445.75 L334.15 447.25 L331.10 447.25Z M331.85 458.35 L333.40 458.35 L332.65 459.85 L340.15 457.60 L332.65 455.35 L333.40 456.85 L331.85 456.85Z M332.70 467.23 L333.39 467.12 L332.92 468.59 L339.40 465.46 L332.27 464.50 L333.17 465.75 L332.49 465.86Z M385.80 66.32 L385.75 66.59 L385.27 66.22 L385.54 69.03 L386.86 66.53 L386.28 66.69 L386.33 66.43Z M387.90 113.90 L387.50 114.30 L387.10 113.10 L384.30 118.30 L389.50 115.50 L388.30 115.10 L388.70 114.70Z M386.58 161.78 L386.42 161.99 L386.16 161.46 L385.20 164.06 L387.43 162.42 L386.85 162.31 L387.01 162.10Z M386.75 205.60 L386.38 206.25 L385.62 206.25 L385.25 205.60 L385.62 204.95 L386.38 204.95Z M386.75 242.00 L386.38 242.65 L385.62 242.65 L385.25 242.00 L385.62 241.35 L386.38 241.35Z M386.75 274.00 L386.38 274.65 L385.62 274.65 L385.25 274.00 L385.62 273.35 L386.38 273.35Z M386.75 302.00 L386.38 302.65 L385.62 302.65 L385.25 302.00 L385.62 301.35 L386.38 301.35Z M387.93 327.02 L387.65 326.82 L388.34 326.45 L384.87 325.29 L387.13 328.17 L387.24 327.39 L387.53 327.59Z M388.28 348.51 L387.96 348.23 L388.85 347.88 L384.81 345.97 L387.13 349.78 L387.39 348.86 L387.70 349.15Z M387.71 367.54 L387.50 367.19 L388.41 367.11 L385.24 364.25 L386.31 368.38 L386.80 367.61 L387.01 367.96Z M386.74 383.11 L386.66 382.79 L387.38 382.94 L385.58 380.01 L385.47 383.44 L386.02 382.96 L386.11 383.27Z M386.21 397.84 L386.26 397.36 L387.17 397.94 L386.26 393.01 L384.30 397.63 L385.31 397.25 L385.26 397.73Z M385.55 410.09 L385.65 409.61 L386.50 410.30 L386.13 405.22 L383.64 409.67 L384.70 409.40 L384.59 409.88Z M385.23 420.28 L385.39 419.86 L386.08 420.60 L386.40 415.88 L383.53 419.64 L384.54 419.54 L384.38 419.96Z M386.35 435.00 L385.98 435.65 L385.23 435.65 L384.85 435.00 L385.23 434.35 L385.98 434.35Z M436.42 60.89 L436.21 61.23 L435.74 60.47 L434.64 64.50 L437.78 61.74 L436.89 61.66 L437.10 61.32Z M437.74 108.16 L437.33 108.65 L436.77 107.35 L434.17 113.43 L439.68 109.78 L438.31 109.46 L438.71 108.97Z M436.35 158.00 L435.98 158.65 L435.23 158.65 L434.85 158.00 L435.23 157.35 L435.98 157.35Z M436.35 200.40 L435.98 201.05 L435.23 201.05 L434.85 200.40 L435.23 199.75 L435.98 199.75Z M436.35 237.00 L435.98 237.65 L435.23 237.65 L434.85 237.00 L435.23 236.35 L435.98 236.35Z M436.35 269.00 L435.98 269.65 L435.23 269.65 L434.85 269.00 L435.23 268.35 L435.98 268.35Z M436.35 296.60 L435.98 297.25 L435.23 297.25 L434.85 296.60 L435.23 295.95 L435.98 295.95Z M436.89 322.25 L436.71 321.96 L437.46 321.89 L434.80 319.57 L435.74 322.97 L436.13 322.32 L436.31 322.61Z M436.89 343.25 L436.71 342.96 L437.46 342.89 L434.80 340.57 L435.74 343.97 L436.13 343.32 L436.31 343.61Z M436.35 360.30 L435.98 360.95 L435.23 360.95 L434.85 360.30 L435.23 359.65 L435.98 359.65Z M436.05 376.00 L435.68 376.65 L434.93 376.65 L434.55 376.00 L434.93 375.35 L435.68 375.35Z M436.05 389.70 L435.68 390.35 L434.93 390.35 L434.55 389.70 L434.93 389.05 L435.68 389.05Z M436.35 401.60 L435.98 402.25 L435.23 402.25 L434.85 401.60 L435.23 400.95 L435.98 400.95Z M436.35 412.00 L435.98 412.65 L435.23 412.65 L434.85 412.00 L435.23 411.35 L435.98 411.35Z M436.35 421.40 L435.98 422.05 L435.23 422.05 L434.85 421.40 L435.23 420.75 L435.98 420.75Z M436.35 429.40 L435.98 430.05 L435.23 430.05 L434.85 429.40 L435.23 428.75 L435.98 428.75Z M488.89 75.50 L487.96 76.00 L487.92 74.32 L482.36 79.84 L490.04 78.29 L488.67 77.32 L489.59 76.83Z M486.15 127.00 L485.77 127.65 L485.02 127.65 L484.65 127.00 L485.02 126.35 L485.77 126.35Z M485.35 174.00 L484.98 174.65 L484.23 174.65 L483.85 174.00 L484.23 173.35 L484.98 173.35Z M483.54 216.61 L483.75 216.61 L483.54 217.04 L485.66 216.40 L483.54 215.76 L483.75 216.19 L483.54 216.19Z M485.95 253.00 L485.57 253.65 L484.82 253.65 L484.45 253.00 L484.82 252.35 L485.57 252.35Z M485.95 285.00 L485.57 285.65 L484.82 285.65 L484.45 285.00 L484.82 284.35 L485.57 284.35Z M487.06 312.63 L486.68 312.63 L487.06 311.89 L483.34 313.00 L487.06 314.11 L486.68 313.37 L487.06 313.37Z M487.00 336.96 L486.63 337.02 L486.90 336.22 L483.34 337.87 L487.21 338.45 L486.74 337.76 L487.11 337.71Z M486.42 357.81 L486.15 357.91 L486.21 357.28 L483.88 359.13 L486.84 358.87 L486.37 358.44 L486.63 358.34Z M485.95 377.00 L485.57 377.65 L484.82 377.65 L484.45 377.00 L484.82 376.35 L485.57 376.35Z M485.95 392.60 L485.57 393.25 L484.82 393.25 L484.45 392.60 L484.82 391.95 L485.57 391.95Z M485.95 406.60 L485.57 407.25 L484.82 407.25 L484.45 406.60 L484.82 405.95 L485.57 405.95Z M482.96 418.45 L483.28 418.51 L482.85 419.09 L486.19 418.66 L483.17 417.18 L483.38 417.87 L483.06 417.82Z M482.69 429.11 L483.06 429.16 L482.59 429.85 L486.46 429.26 L482.90 427.62 L483.17 428.42 L482.80 428.36Z M482.96 438.05 L483.28 438.11 L482.85 438.69 L486.19 438.26 L483.17 436.78 L483.38 437.47 L483.06 437.42Z M485.35 446.00 L484.98 446.65 L484.23 446.65 L483.85 446.00 L484.23 445.35 L484.98 445.35Z M537.53 65.80 L537.00 65.94 L537.26 64.74 L532.34 67.67 L538.06 67.93 L537.26 67.00 L537.79 66.87Z M537.22 113.57 L536.73 113.83 L536.69 112.57 L532.51 116.73 L538.29 115.56 L537.26 114.83 L537.76 114.56Z M531.88 161.65 L532.25 161.91 L531.35 162.39 L535.86 163.92 L532.94 160.16 L532.78 161.17 L532.41 160.90Z M531.88 205.02 L532.30 205.02 L531.88 205.87 L536.12 204.60 L531.88 203.33 L532.30 204.18 L531.88 204.18Z M535.15 241.40 L534.77 242.05 L534.02 242.05 L533.65 241.40 L534.02 240.75 L534.77 240.75Z M535.15 273.60 L534.77 274.25 L534.02 274.25 L533.65 273.60 L534.02 272.95 L534.77 272.95Z M535.15 301.40 L534.77 302.05 L534.02 302.05 L533.65 301.40 L534.02 300.75 L534.77 300.75Z M536.18 326.98 L535.97 326.66 L536.81 326.55 L533.74 324.01 L534.91 327.83 L535.33 327.08 L535.54 327.40Z M537.58 347.94 L537.14 347.58 L538.30 347.05 L532.77 344.82 L536.16 349.72 L536.43 348.47 L536.87 348.83Z M538.62 366.48 L537.85 365.97 L539.30 365.13 L531.79 362.89 L536.82 368.89 L537.02 367.23 L537.80 367.73Z M539.23 382.68 L538.00 381.85 L539.46 381.03 L531.99 378.70 L536.94 384.76 L537.16 383.10 L538.39 383.93Z M538.76 396.22 L538.16 395.85 L539.49 395.02 L532.40 393.18 L537.31 398.62 L537.44 397.06 L538.04 397.42Z M537.34 407.40 L536.92 407.16 L537.83 406.57 L532.90 405.38 L536.36 409.08 L536.43 408.00 L536.85 408.24Z M535.15 416.60 L534.77 417.25 L534.02 417.25 L533.65 416.60 L534.02 415.95 L534.77 415.95Z M535.15 425.60 L534.77 426.25 L534.02 426.25 L533.65 425.60 L534.02 424.95 L534.77 424.95Z M535.15 434.00 L534.77 434.65 L534.02 434.65 L533.65 434.00 L534.02 433.35 L534.77 433.35Z M587.88 73.76 L587.11 73.95 L587.47 72.31 L580.74 76.32 L588.56 76.68 L587.47 75.41 L588.24 75.21Z M586.43 123.32 L586.00 123.45 L586.18 122.45 L582.24 125.05 L586.95 125.05 L586.26 124.31 L586.69 124.18Z M582.12 170.47 L582.38 170.63 L581.80 171.00 L584.93 171.79 L582.75 169.41 L582.70 170.10 L582.43 169.94Z M581.64 212.84 L582.01 212.95 L581.43 213.58 L585.46 213.53 L582.06 211.36 L582.22 212.21 L581.85 212.10Z M584.75 250.00 L584.38 250.65 L583.62 250.65 L583.25 250.00 L583.62 249.35 L584.38 249.35Z M584.75 282.00 L584.38 282.65 L583.62 282.65 L583.25 282.00 L583.62 281.35 L584.38 281.35Z M586.04 309.95 L585.73 309.89 L586.15 309.31 L582.81 309.74 L585.83 311.22 L585.62 310.53 L585.94 310.58Z M586.57 333.84 L586.15 333.79 L586.68 332.99 L582.28 333.74 L586.36 335.54 L586.04 334.64 L586.47 334.69Z M586.89 355.45 L586.41 355.35 L587.10 354.50 L582.01 354.87 L586.47 357.36 L586.20 356.30 L586.68 356.41Z M586.95 374.04 L586.51 373.86 L587.30 373.16 L582.42 372.73 L586.25 375.78 L586.17 374.73 L586.60 374.91Z M587.06 390.48 L586.62 390.22 L587.59 389.60 L582.40 388.28 L586.01 392.24 L586.10 391.10 L586.54 391.36Z M587.09 404.37 L586.65 404.09 L587.65 403.49 L582.39 401.99 L585.96 406.13 L586.08 404.97 L586.52 405.25Z M587.12 416.71 L586.68 416.40 L587.74 415.82 L582.39 414.05 L585.88 418.48 L586.06 417.28 L586.50 417.59Z M587.04 427.17 L586.61 426.85 L587.67 426.32 L582.48 424.41 L585.77 428.86 L585.98 427.70 L586.40 428.01Z M585.67 435.85 L585.46 435.64 L586.10 435.42 L583.34 433.94 L584.82 436.70 L585.04 436.06 L585.25 436.27Z M585.15 443.00 L584.77 443.65 L584.02 443.65 L583.65 443.00 L584.02 442.35 L584.77 442.35Z M635.59 47.70 L635.22 47.97 L635.06 46.96 L632.14 50.73 L636.65 49.19 L635.75 48.71 L636.12 48.45Z M637.28 94.79 L635.39 96.11 L635.14 94.46 L630.29 100.60 L637.72 98.14 L636.25 97.34 L638.14 96.02Z M634.35 147.00 L633.98 147.65 L633.23 147.65 L632.85 147.00 L633.23 146.35 L633.98 146.35Z M630.77 194.49 L631.20 194.60 L630.56 195.34 L635.12 195.13 L631.20 192.80 L631.41 193.75 L630.99 193.65Z M634.15 237.00 L633.77 237.65 L633.02 237.65 L632.65 237.00 L633.02 236.35 L633.77 236.35Z M634.15 274.00 L633.77 274.65 L633.02 274.65 L632.65 274.00 L633.02 273.35 L633.77 273.35Z M635.96 306.76 L635.59 306.65 L636.17 306.02 L632.14 306.07 L635.54 308.24 L635.38 307.40 L635.75 307.50Z M636.61 333.85 L636.08 333.89 L636.52 332.79 L631.35 334.82 L636.78 335.97 L636.17 334.95 L636.70 334.91Z M636.57 357.63 L636.04 357.72 L636.39 356.56 L631.35 359.04 L636.92 359.75 L636.21 358.78 L636.74 358.69Z M636.03 378.52 L635.60 378.65 L635.78 377.65 L631.84 380.25 L636.55 380.25 L635.86 379.51 L636.29 379.38Z M635.43 396.89 L635.11 397.05 L635.11 396.25 L632.41 398.80 L636.07 398.16 L635.43 397.68 L635.75 397.52Z M634.35 414.00 L633.98 414.65 L633.23 414.65 L632.85 414.00 L633.23 413.35 L633.98 413.35Z M634.35 428.00 L633.98 428.65 L633.23 428.65 L632.85 428.00 L633.23 427.35 L633.98 427.35Z M634.35 440.40 L633.98 441.05 L633.23 441.05 L632.85 440.40 L633.23 439.75 L633.98 439.75Z M634.35 451.00 L633.98 451.65 L633.23 451.65 L632.85 451.00 L633.23 450.35 L633.98 450.35Z M634.35 460.00 L633.98 460.65 L633.23 460.65 L632.85 460.00 L633.23 459.35 L633.98 459.35Z M634.35 468.00 L633.98 468.65 L633.23 468.65 L632.85 468.00 L633.23 467.35 L633.98 467.35Z M685.19 47.70 L684.82 47.97 L684.66 46.96 L681.75 50.73 L686.25 49.19 L685.35 48.71 L685.72 48.45Z M686.56 94.57 L684.63 96.09 L684.30 94.44 L679.78 100.83 L687.07 97.99 L685.55 97.27 L687.49 95.76Z M684.35 146.60 L683.98 147.25 L683.23 147.25 L682.85 146.60 L683.23 145.95 L683.98 145.95Z M680.32 193.63 L680.75 193.79 L680.00 194.48 L684.72 194.79 L680.96 191.93 L681.06 192.94 L680.64 192.78Z M683.35 236.40 L682.98 237.05 L682.23 237.05 L681.85 236.40 L682.23 235.75 L682.98 235.75Z M683.75 273.40 L683.38 274.05 L682.62 274.05 L682.25 273.40 L682.62 272.75 L683.38 272.75Z M685.80 302.64 L685.32 303.02 L685.05 301.69 L681.42 306.88 L687.31 304.54 L686.08 303.97 L686.55 303.59Z M686.47 330.10 L685.68 330.69 L685.39 329.04 L680.68 335.29 L688.06 332.66 L686.56 331.90 L687.36 331.31Z M685.84 354.74 L685.34 355.19 L684.93 353.74 L681.31 359.76 L687.65 356.73 L686.25 356.19 L686.74 355.73Z M684.73 377.26 L684.38 377.58 L684.09 376.56 L681.55 380.79 L686.00 378.66 L685.02 378.28 L685.37 377.96Z M683.75 398.00 L683.38 398.65 L682.62 398.65 L682.25 398.00 L682.62 397.35 L683.38 397.35Z M683.75 413.60 L683.38 414.25 L682.62 414.25 L682.25 413.60 L682.62 412.95 L683.38 412.95Z M683.75 428.00 L683.38 428.65 L682.62 428.65 L682.25 428.00 L682.62 427.35 L683.38 427.35Z M683.75 440.00 L683.38 440.65 L682.62 440.65 L682.25 440.00 L682.62 439.35 L683.38 439.35Z M683.75 450.60 L683.38 451.25 L682.62 451.25 L682.25 450.60 L682.62 449.95 L683.38 449.95Z M683.75 460.00 L683.38 460.65 L682.62 460.65 L682.25 460.00 L682.62 459.35 L683.38 459.35Z M683.75 467.60 L683.38 468.25 L682.62 468.25 L682.25 467.60 L682.62 466.95 L683.38 466.95Z M734.03 47.49 L733.71 47.65 L733.71 46.85 L731.01 49.40 L734.67 48.76 L734.03 48.28 L734.35 48.12Z M736.49 94.50 L734.77 95.41 L734.73 93.74 L729.16 99.24 L736.84 97.71 L735.47 96.74 L737.19 95.83Z M733.15 146.40 L732.77 147.05 L732.02 147.05 L731.65 146.40 L732.02 145.75 L732.77 145.75Z M730.35 191.92 L730.68 192.22 L729.75 192.57 L733.94 194.61 L731.57 190.60 L731.29 191.56 L730.96 191.26Z M731.08 235.02 L731.29 235.18 L730.76 235.44 L733.36 236.39 L731.72 234.17 L731.61 234.75 L731.40 234.59Z M733.75 273.00 L733.38 273.65 L732.62 273.65 L732.25 273.00 L732.62 272.35 L733.38 272.35Z M735.80 306.52 L735.36 306.22 L736.38 305.63 L731.09 304.04 L734.63 308.28 L734.77 307.11 L735.22 307.40Z M736.34 335.45 L735.82 335.00 L737.25 334.42 L730.71 331.43 L734.53 337.52 L734.92 336.03 L735.43 336.49Z M735.09 359.89 L734.76 359.45 L735.97 359.23 L731.36 355.78 L733.31 361.20 L733.87 360.10 L734.20 360.55Z M733.67 381.45 L733.53 380.97 L734.62 381.17 L731.81 376.81 L731.76 382.00 L732.57 381.25 L732.71 381.72Z M732.62 399.19 L732.66 398.76 L733.48 399.28 L732.62 394.85 L730.89 399.02 L731.80 398.68 L731.75 399.11Z M732.49 415.22 L732.56 414.79 L733.35 415.36 L732.74 410.85 L730.76 414.95 L731.69 414.65 L731.62 415.09Z M732.35 429.89 L732.45 429.41 L733.30 430.10 L732.93 425.01 L730.44 429.47 L731.50 429.20 L731.39 429.68Z M732.24 441.36 L732.35 440.99 L732.98 441.57 L732.93 437.54 L730.76 440.94 L731.61 440.78 L731.50 441.15Z M731.92 451.75 L732.08 451.43 L732.56 452.07 L733.19 448.41 L730.65 451.11 L731.45 451.11 L731.29 451.43Z M731.82 460.62 L731.98 460.41 L732.24 460.94 L733.19 458.34 L730.97 459.98 L731.55 460.09 L731.39 460.30Z M733.15 467.00 L732.77 467.65 L732.02 467.65 L731.65 467.00 L732.02 466.35 L732.77 466.35Z M784.71 54.75 L784.28 54.80 L784.62 53.89 L780.45 55.62 L784.88 56.48 L784.36 55.66 L784.79 55.62Z M786.34 102.00 L784.82 102.49 L785.07 100.83 L778.63 105.29 L786.46 105.11 L785.28 103.92 L786.80 103.42Z M782.75 153.40 L782.38 154.05 L781.62 154.05 L781.25 153.40 L781.62 152.75 L782.38 152.75Z M779.11 198.25 L779.50 198.68 L778.25 199.04 L783.46 202.14 L780.82 196.68 L780.36 197.89 L779.96 197.47Z M779.73 241.37 L780.04 241.71 L779.04 241.98 L783.12 244.54 L781.12 240.15 L780.73 241.11 L780.43 240.76Z M782.95 280.00 L782.58 280.65 L781.83 280.65 L781.45 280.00 L781.83 279.35 L782.58 279.35Z M786.14 312.77 L785.51 312.59 L786.51 311.51 L779.64 311.60 L785.42 315.30 L785.15 313.86 L785.78 314.04Z M786.89 341.57 L785.54 341.05 L786.78 339.92 L778.98 339.33 L785.17 344.12 L785.00 342.45 L786.35 342.97Z M784.96 366.36 L784.59 366.08 L785.53 365.61 L780.93 363.86 L783.81 367.86 L784.01 366.82 L784.38 367.11Z M782.95 386.30 L782.58 386.95 L781.83 386.95 L781.45 386.30 L781.83 385.65 L782.58 385.65Z M782.75 404.60 L782.38 405.25 L781.62 405.25 L781.25 404.60 L781.62 403.95 L782.38 403.95Z M782.75 420.60 L782.38 421.25 L781.62 421.25 L781.25 420.60 L781.62 419.95 L782.38 419.95Z M782.75 434.60 L782.38 435.25 L781.62 435.25 L781.25 434.60 L781.62 433.95 L782.38 433.95Z M783.15 446.40 L782.77 447.05 L782.02 447.05 L781.65 446.40 L782.02 445.75 L782.77 445.75Z M783.15 457.00 L782.77 457.65 L782.02 457.65 L781.65 457.00 L782.02 456.35 L782.77 456.35Z M783.15 466.60 L782.77 467.25 L782.02 467.25 L781.65 466.60 L782.02 465.95 L782.77 465.95Z M783.15 474.40 L782.77 475.05 L782.02 475.05 L781.65 474.40 L782.02 473.75 L782.77 473.75Z" fill="#000" stroke="#000" stroke-width="0.5" stroke-linejoin="miter"/>
<path d="M100.0 499.8 V528.0 H822.1 V482.6" fill="none" stroke="#000" stroke-opacity="0.22" stroke-width="1.4"/>
<rect x="85.80" y="542.52" width="13.60" height="1.75" fill="#000"/>
<text filter="url(#gs)" transform="translate(102.46 550.50) scale(0.9537 1)" font-size="23.4">3</text>
<rect x="188.96" y="542.52" width="13.60" height="1.75" fill="#000"/>
<text filter="url(#gs)" transform="translate(205.29 550.50) scale(0.9956 1)" font-size="23.4">2</text>
<rect x="292.11" y="542.52" width="13.60" height="1.75" fill="#000"/>
<text filter="url(#gs)" transform="translate(307.78 550.50) scale(1.0474 1)" font-size="23.4">1</text>
<text filter="url(#gs)" transform="translate(403.17 550.50) scale(0.9666 1)" font-size="23.4">0</text>
<text filter="url(#gs)" transform="translate(505.36 550.50) scale(1.0671 1)" font-size="23.4">1</text>
<text filter="url(#gs)" transform="translate(609.20 550.50) scale(1.0144 1)" font-size="23.4">2</text>
<text filter="url(#gs)" transform="translate(712.69 550.50) scale(0.9717 1)" font-size="23.4">3</text>
<text filter="url(#gs)" transform="translate(816.22 550.50) scale(0.9139 1)" font-size="23.4">4</text>
<text filter="url(#gs)" transform="translate(62.15 534.10) scale(1.0159 1)" font-size="23.4">0.0</text>
<text filter="url(#gs)" transform="translate(62.15 414.05) scale(1.0178 1)" font-size="23.4">0.5</text>
<text filter="url(#gs)" transform="translate(61.27 294.00) scale(1.0437 1)" font-size="23.4">1.0</text>
<text filter="url(#gs)" transform="translate(61.26 173.95) scale(1.0458 1)" font-size="23.4">1.5</text>
<text filter="url(#gs)" transform="translate(61.90 53.90) scale(1.0237 1)" font-size="23.4">2.0</text>
<text filter="url(#gs)" transform="translate(161.04 41.00) scale(1.1490 1)" font-size="26.9">Init:</text>
<text filter="url(#gs)" transform="translate(218.49 41.00) scale(1.0456 1)" font-size="26.9">2017-04-30</text>
<text filter="url(#gs)" transform="translate(372.15 41.00) scale(1.0661 1)" font-size="26.9">00:00;</text>
<text filter="url(#gs)" transform="translate(461.16 41.00) scale(1.0551 1)" font-size="26.9">Valid:</text>
<text filter="url(#gs)" transform="translate(536.89 41.00) scale(1.0456 1)" font-size="26.9">2017-06-10</text>
<text filter="url(#gs)" transform="translate(690.70 41.00) scale(1.0406 1)" font-size="26.9">18:00</text>
<text filter="url(#gs)" transform="translate(373.98 581.20) scale(1.0446 1)" font-size="26.9">Distance</text>
<text filter="url(#gs)" transform="translate(492.10 581.20) scale(1.0681 1)" font-size="26.9">(km)</text>
<g transform="translate(50.3 0) rotate(-90)">
<text filter="url(#gs)" transform="translate(-366.07 0.00) scale(1.0599 1)" font-size="26.9">Altitude</text>
<text filter="url(#gs)" transform="translate(-262.89 0.00) scale(1.0621 1)" font-size="26.9">(km)</text>
</g>
<rect x="839.4" y="451.43" width="17.7" height="12.07" fill="#36459c"/>
<rect x="839.4" y="439.77" width="17.7" height="12.07" fill="#4065ac"/>
<rect x="839.4" y="428.10" width="17.7" height="12.07" fill="#5183bb"/>
<rect x="839.4" y="416.43" width="17.7" height="12.07" fill="#679ec9"/>
<rect x="839.4" y="404.77" width="17.7" height="12.07" fill="#81b7d7"/>
<rect x="839.4" y="393.10" width="17.7" height="12.07" fill="#9dcee3"/>
<rect x="839.4" y="381.43" width="17.7" height="12.07" fill="#b9e0ed"/>
<rect x="839.4" y="369.77" width="17.7" height="12.07" fill="#d4edf4"/>
<rect x="839.4" y="358.10" width="17.7" height="12.07" fill="#e7f6eb"/>
<rect x="839.4" y="346.43" width="17.7" height="12.07" fill="#f7fcce"/>
<rect x="839.4" y="334.77" width="17.7" height="12.07" fill="#fffbb9"/>
<rect x="839.4" y="323.10" width="17.7" height="12.07" fill="#fff3ad"/>
<rect x="839.4" y="311.43" width="17.7" height="12.07" fill="#feeba1"/>
<rect x="839.4" y="299.77" width="17.7" height="12.07" fill="#fee496"/>
<rect x="839.4" y="288.10" width="17.7" height="12.07" fill="#feda8a"/>
<rect x="839.4" y="276.43" width="17.7" height="12.07" fill="#fecc7e"/>
<rect x="839.4" y="264.77" width="17.7" height="12.07" fill="#fdc173"/>
<rect x="839.4" y="253.10" width="17.7" height="12.07" fill="#fdb366"/>
<rect x="839.4" y="241.43" width="17.7" height="12.07" fill="#fca55d"/>
<rect x="839.4" y="229.77" width="17.7" height="12.07" fill="#fa9656"/>
<rect x="839.4" y="218.10" width="17.7" height="12.07" fill="#f7844e"/>
<rect x="839.4" y="206.43" width="17.7" height="12.07" fill="#f57547"/>
<rect x="839.4" y="194.77" width="17.7" height="12.07" fill="#ef633f"/>
<rect x="839.4" y="183.10" width="17.7" height="12.07" fill="#e95538"/>
<rect x="839.4" y="171.43" width="17.7" height="12.07" fill="#e24731"/>
<rect x="839.4" y="159.77" width="17.7" height="12.07" fill="#da362a"/>
<rect x="839.4" y="148.10" width="17.7" height="12.07" fill="#d02927"/>
<rect x="839.4" y="136.43" width="17.7" height="12.07" fill="#c21c27"/>
<rect x="839.4" y="124.77" width="17.7" height="12.07" fill="#b71126"/>
<rect x="839.4" y="113.10" width="17.7" height="12.07" fill="#ab0626"/>
<polygon points="839.4,113.5 848.2,95.7 857.1,113.5" fill="#a50026"/>
<polygon points="839.4,463.1 848.2,480.9 857.1,463.1" fill="#313695"/>
<polygon points="839.4,113.3 848.2,95.7 857.1,113.3 857.1,463.3 848.2,480.9 839.4,463.3" fill="none" stroke="#000" stroke-width="1.4" stroke-linejoin="miter"/>
<rect x="862.60" y="438.09" width="13.20" height="1.75" fill="#000"/>
<text filter="url(#gs)" transform="translate(878.86 446.07) scale(1.0456 1)" font-size="23.4">8</text>
<rect x="862.60" y="391.43" width="13.20" height="1.75" fill="#000"/>
<text filter="url(#gs)" transform="translate(879.39 399.40) scale(0.9732 1)" font-size="23.4">4</text>
<text filter="url(#gs)" transform="translate(861.68 352.73) scale(0.9845 1)" font-size="23.4">0</text>
<text filter="url(#gs)" transform="translate(862.11 306.07) scale(0.9309 1)" font-size="23.4">4</text>
<text filter="url(#gs)" transform="translate(861.61 259.40) scale(1.0002 1)" font-size="23.4">8</text>
<text filter="url(#gs)" transform="translate(860.80 212.73) scale(1.0846 1)" font-size="23.4">12</text>
<text filter="url(#gs)" transform="translate(860.81 166.07) scale(1.0764 1)" font-size="23.4">16</text>
<text filter="url(#gs)" transform="translate(861.48 119.40) scale(1.0449 1)" font-size="23.4">20</text>
<path d="M857.1 439.97 h-5.5 M857.1 393.30 h-5.5 M857.1 346.63 h-5.5 M857.1 299.97 h-5.5 M857.1 253.30 h-5.5 M857.1 206.63 h-5.5 M857.1 159.97 h-5.5 M857.1 113.30 h-5.5" stroke="#000" stroke-width="0.7" fill="none"/>
<g transform="translate(920.8 0) rotate(-90)">
<text filter="url(#gs)" transform="translate(-474.61 0.00) scale(1.0429 1)" font-size="26.9">Horizontal</text>
<text filter="url(#gs)" transform="translate(-338.10 0.00) scale(1.0150 1)" font-size="26.9">wind</text>
<text filter="url(#gs)" transform="translate(-272.46 0.00) scale(1.0295 1)" font-size="26.9">speed</text>
<text filter="url(#gs)" transform="translate(-189.01 0.00) scale(1.0749 1)" font-size="26.9">(m</text>
<text filter="url(#gs)" transform="translate(-146.98 0.00) scale(0.7817 1)" font-size="26.9">s</text>
<rect x="-132.7" y="-15.45" width="9.9" height="1.1" fill="#000"/>
<text filter="url(#gs)" transform="translate(-123.68 -10.70) scale(1.0694 1)" font-size="16.0">1</text>
<text filter="url(#gs)" transform="translate(-106.26 0.00) scale(0.7931 1)" font-size="26.9">)</text>
</g>
</svg></body></html>
